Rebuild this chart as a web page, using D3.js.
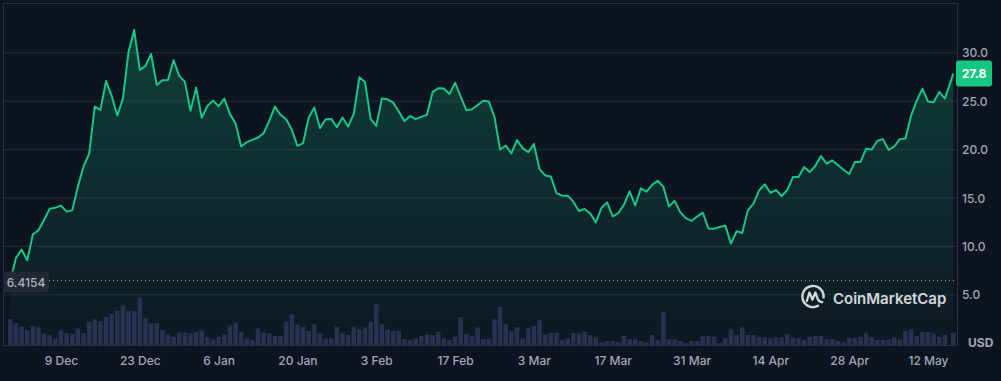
<!DOCTYPE html>
<html>
<head>
<meta charset="utf-8">
<script src="https://cdn.jsdelivr.net/npm/d3@7"></script>
<style>
  html, body { margin: 0; padding: 0; background: #0d1421; overflow: hidden; }
  svg { display: block; font-family: Inter, "Noto Sans", sans-serif; }
</style>
</head>
<body>
<svg id="chart" width="1001" height="381"></svg>
<script>
// ---------------- DATA ----------------
const startDay = "2024-11-30";          // first daily point
const lastStamp = "2025-05-16T12:00";   // latest (intraday) point
const priceValues = [
  6.4154, 8.76, 9.62, 8.52, 11.17, 11.61, 12.71, 13.85, 13.95, 14.16,
  13.54, 13.67, 16.15, 18.21, 19.52, 24.39, 24.05, 27.04, 25.5, 23.47,
  25.22, 30.06, 32.3, 28.18, 28.59, 29.83, 26.63, 27.11, 27.14, 29.18,
  27.56, 26.97, 23.95, 26.35, 23.23, 24.46, 25.01, 24.43, 25.22, 23.64,
  22.68, 20.27, 20.72, 20.96, 21.2, 21.65, 22.95, 24.39, 23.54, 23.09,
  21.99, 20.34, 20.62, 23.26, 24.29, 22.16, 23.09, 23.12, 22.27, 23.26,
  22.33, 23.64, 27.42, 26.94, 23.12, 22.4, 25.22, 25.15, 24.8, 23.88,
  22.89, 23.43, 23.09, 23.33, 23.54, 25.88, 26.29, 26.25, 25.7, 26.84,
  25.42, 24.02, 24.12, 24.54, 25.0, 24.91, 23.3, 19.96, 20.37, 19.55,
  20.93, 20.1, 19.69, 20.51, 17.94, 17.28, 17.18, 15.46, 15.19, 15.19,
  14.57, 13.61, 13.81, 13.36, 12.43, 13.92, 14.5, 13.05, 13.4, 14.26,
  15.63, 14.19, 15.94, 15.6, 16.3, 16.73, 16.1, 14.08, 14.65, 13.46,
  12.87, 12.58, 13.03, 13.43, 11.8, 11.78, 11.96, 12.09, 10.24, 11.51,
  11.34, 13.67, 14.36, 15.74, 16.35, 15.49, 15.77, 15.15, 15.77, 17.11,
  17.11, 18.14, 17.63, 18.28, 19.28, 18.49, 18.83, 18.35, 17.87, 17.42,
  18.66, 18.66, 20.03, 19.96, 20.86, 21.03, 19.93, 20.27, 21.03, 21.09,
  23.46, 25.01, 26.25, 24.91, 24.84, 25.91, 25.22, 27.8
];
// 24h volume, millions USD
const volumeValues = [
  51.4, 43.4, 36.6, 30, 38.6, 35.4, 23.4, 19.4, 13.4, 29.4,
  23.4, 22, 33.4, 23.4, 46.6, 51.4, 47.4, 56.6, 62, 68.6,
  79.4, 68.6, 68.6, 95.4, 53.4, 43.4, 43.4, 29.4, 21.4, 16.6,
  25.4, 25.4, 23.4, 26.6, 29.4, 15.4, 11.4, 16.6, 21.4, 39,
  45, 26.6, 13.4, 10, 33.4, 25.4, 23.4, 18, 18, 46.6,
  61.4, 41.4, 36.6, 28, 41.4, 23.4, 13.4, 13.4, 36.6, 23.4,
  20, 36.6, 31.4, 35.4, 46.6, 81.4, 41.4, 31.4, 28, 28.6,
  11.4, 10, 13.4, 18, 21.4, 20, 26.6, 13.4, 10, 16.6,
  55.4, 22, 17.4, 35, 11.4, 13.4, 51.4, 76, 42, 28,
  35.4, 13.4, 33.4, 38, 49.4, 21.4, 24.6, 24.6, 10, 13.4,
  24, 23.4, 26, 20, 15.4, 5.4, 8, 8, 5.4, 18,
  11.4, 11.4, 8, 5.4, 20, 10, 65.4, 11.4, 11.4, 8,
  3.4, 8, 8, 18, 18, 16.6, 3.4, 13.4, 31.4, 20,
  35.4, 20, 20, 15.4, 15.4, 13.4, 14.6, 15.4, 21.4, 14.6,
  13.4, 10, 16.6, 18, 18, 11.4, 11.4, 8, 5.4, 14.6,
  14.6, 16.6, 23.4, 15.4, 10, 10, 11.4, 15.4, 11.4, 28,
  31.4, 18, 26, 26, 23.4, 16.6, 20, 24.6
];
const xTicks = ["2024-12-09", "2024-12-23", "2025-01-06", "2025-01-20", "2025-02-03", "2025-02-17",
                "2025-03-03", "2025-03-17", "2025-03-31", "2025-04-14", "2025-04-28", "2025-05-12"];
const yTicks = [5, 10, 15, 20, 25, 30];
const rangeLow = 6.4154;
const currencyLabel = "USD";
const brandName = "CoinMarketCap";

// ---------------- SETUP ----------------
const parseDay = d3.utcParse("%Y-%m-%d");
const parseStamp = d3.utcParse("%Y-%m-%dT%H:%M");
const n = priceValues.length;
const dates = priceValues.map((_, i) =>
  i === n - 1 ? parseStamp(lastStamp) : d3.utcDay.offset(parseDay(startDay), i));
const data = priceValues.map((p, i) => ({ date: dates[i], price: p, vol: volumeValues[i] }));

const svg = d3.select("#chart");
const W = 1001, H = 381;
const pL = 3, pR = 957, pT = 3, pB = 345;

const x = d3.scaleUtc()
  .domain([parseDay(xTicks[0]), parseDay(xTicks[xTicks.length - 1])])
  .range([61, 928]);
const y = d3.scaleLinear().domain([5, 30]).range([294.3, 52.3]);
const yVol = d3.scaleLinear().domain([0, 100]).range([0, 50]);

svg.append("rect").attr("width", W).attr("height", H).attr("fill", "#0d1421");

// gradient for area
const defs = svg.append("defs");
const grad = defs.append("linearGradient").attr("id", "areaGrad")
  .attr("gradientUnits", "userSpaceOnUse")
  .attr("x1", 0).attr("x2", 0).attr("y1", 30).attr("y2", pB);
grad.append("stop").attr("offset", "0%").attr("stop-color", "#16c784").attr("stop-opacity", 0.24);
grad.append("stop").attr("offset", "100%").attr("stop-color", "#16c784").attr("stop-opacity", 0.02);

// gridlines
const grid = svg.append("g").attr("transform", `translate(${pR},0)`)
  .call(d3.axisLeft(y).tickValues(yTicks).tickSize(pR - pL).tickFormat(""));
grid.select(".domain").remove();
grid.selectAll("line").attr("stroke", "#252b38").attr("stroke-width", 1);

// frame
const frame = svg.append("g").attr("stroke", "#2a303d").attr("stroke-width", 1).attr("fill", "none");
frame.append("line").attr("x1", pL).attr("x2", pR).attr("y1", pT + 0.5).attr("y2", pT + 0.5);
frame.append("line").attr("x1", pL + 0.5).attr("x2", pL + 0.5).attr("y1", pT).attr("y2", pB);
frame.append("line").attr("x1", pR + 0.5).attr("x2", pR + 0.5).attr("y1", pT).attr("y2", pB);
frame.append("line").attr("x1", pL).attr("x2", pR).attr("y1", pB + 0.5).attr("y2", pB + 0.5);

// area
const area = d3.area().x(d => x(d.date)).y0(pB).y1(d => y(d.price));
svg.append("path").datum(data).attr("d", area).attr("fill", "url(#areaGrad)");

// volume bars
const barW = 4.6;
svg.append("g").selectAll("rect").data(data).join("rect")
  .attr("x", d => x(d.date) - barW / 2)
  .attr("width", barW)
  .attr("y", d => pB - yVol(d.vol))
  .attr("height", d => yVol(d.vol))
  .attr("fill", "#28314f");

// price line
const line = d3.line().x(d => x(d.date)).y(d => y(d.price));
svg.append("path").datum(data).attr("d", line)
  .attr("fill", "none").attr("stroke", "#16c784").attr("stroke-width", 2)
  .attr("stroke-linejoin", "round");

// low dotted line + label
svg.append("line").attr("x1", 49).attr("x2", pR).attr("y1", y(rangeLow)).attr("y2", y(rangeLow))
  .attr("stroke", "#9aa1ae").attr("stroke-width", 1).attr("stroke-dasharray", "1,3");
svg.append("rect").attr("x", pL).attr("y", y(rangeLow) - 9).attr("width", 46).attr("height", 21)
  .attr("rx", 4).attr("fill", "#222836");
svg.append("text").attr("x", pL + 23).attr("y", y(rangeLow) + 6)
  .attr("text-anchor", "middle").attr("fill", "#aeb4c0").attr("font-size", 12).attr("font-weight", 500)
  .text(d3.format(".4f")(rangeLow));

// right axis labels
const yAxis = svg.append("g").attr("transform", `translate(${pR},0)`)
  .call(d3.axisRight(y).tickValues(yTicks).tickSize(0).tickPadding(5).tickFormat(d3.format(".1f")));
yAxis.select(".domain").remove();
yAxis.selectAll("text").attr("fill", "#a1a7b3").attr("font-size", 12).attr("font-weight", 500)
  .attr("dy", "0.38em").attr("font-family", "Inter, sans-serif");

// x axis labels
const xAxis = svg.append("g").attr("transform", `translate(0,${pB})`)
  .call(d3.axisBottom(x).tickValues(xTicks.map(parseDay)).tickSize(0).tickPadding(11.5)
    .tickFormat(d3.utcFormat("%-d %b")));
xAxis.select(".domain").remove();
xAxis.selectAll("text").attr("fill", "#a1a7b3").attr("font-size", 12).attr("font-weight", 500)
  .attr("font-family", "Inter, sans-serif");

// currency label
svg.append("text").attr("x", 968).attr("y", 347).attr("fill", "#a1a7b3")
  .attr("font-size", 12).attr("font-weight", 700).text(currencyLabel);

// current price tag
const last = data[n - 1];
svg.append("rect").attr("x", 956).attr("y", y(last.price) - 13).attr("width", 36).attr("height", 26)
  .attr("rx", 3).attr("fill", "#16c784");
svg.append("text").attr("x", 974).attr("y", y(last.price) + 4.5).attr("text-anchor", "middle")
  .attr("fill", "#ffffff").attr("font-size", 12).attr("font-weight", 700).text(last.price.toFixed(1));

// watermark logo
const logo = svg.append("g").attr("transform", "translate(813,296.5)").attr("opacity", 0.9);
logo.append("path")
  .attr("d", d3.arc().innerRadius(9.4).outerRadius(11.8).startAngle(2.55).endAngle(2 * Math.PI + 1.75)())
  .attr("fill", "#e8eaee");
logo.append("path")
  .attr("d", "M-6.2,4.5 L-3.6,-4 L-0.6,3.2 L2.4,-4 L4.6,2.2 Q6,5.4 9.2,5.6")
  .attr("fill", "none").attr("stroke", "#e8eaee").attr("stroke-width", 2.3)
  .attr("stroke-linejoin", "round").attr("stroke-linecap", "round");
svg.append("text").attr("x", 833).attr("y", 303.5).attr("fill", "#e8eaee").attr("opacity", 0.9)
  .attr("font-size", 15).attr("font-weight", 600).text(brandName);
</script>
</body>
</html>
